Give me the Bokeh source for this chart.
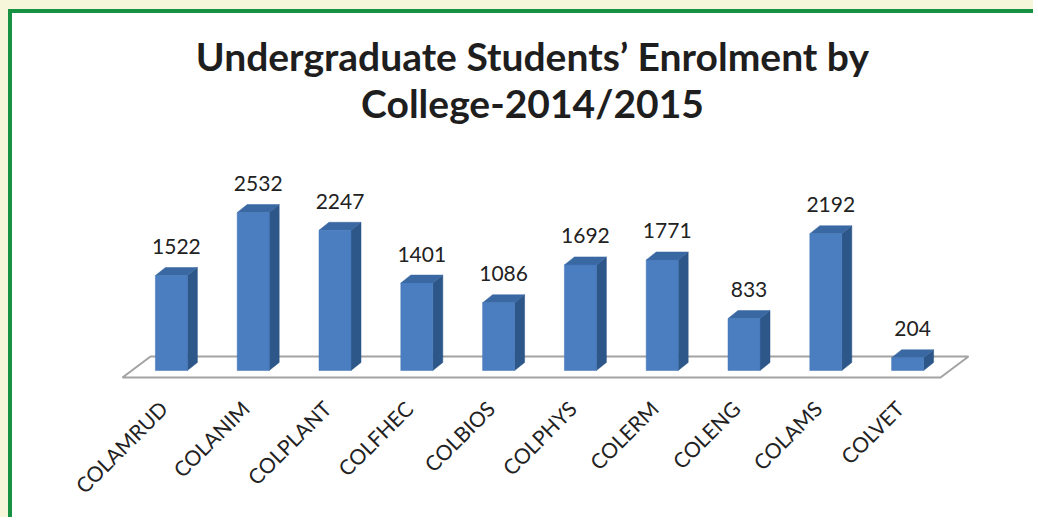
from bokeh.plotting import figure
from bokeh.layouts import column
from bokeh.models import Range1d, FixedTicker, Label
from bokeh.core.properties import value
from bokeh.embed import file_html
from bokeh.resources import INLINE

# ---- data ----
colleges = ["COLAMRUD", "COLANIM", "COLPLANT", "COLFHEC", "COLBIOS",
            "COLPHYS", "COLERM", "COLENG", "COLAMS", "COLVET"]
enrolment = [1522, 2532, 2247, 1401, 1086, 1692, 1771, 833, 2192, 204]
title_lines = ["Undergraduate Students\u2019 Enrolment by", "College-2014/2015"]

# ---- geometry (canvas pixels) ----
FIG_W, FIG_H = 1025, 508
FRAME_L, FRAME_R, FRAME_T, FRAME_B = 30, 1010, 0, 372
SLOT_PX = 81.8          # pixels per category slot
SLOT0_PX = 110          # pixel x of the left edge of the first slot
ZERO_PX = 357           # pixel y of value 0 (bar front bottom)
PX_PER_UNIT = 0.0624    # pixels per enrolment unit
TITLE_BASELINES = [42, 89]   # canvas y of title line anchors

def px_x(px):
    return px / SLOT_PX

def px_y(px):
    return px / PX_PER_UNIT

x_start = -0.5 + (FRAME_L - SLOT0_PX) / SLOT_PX
x_end = -0.5 + (FRAME_R - SLOT0_PX) / SLOT_PX
y_start = -px_y(FRAME_B - ZERO_PX)
y_end = px_y(ZERO_PX - FRAME_T)

fig = figure(width=FIG_W, height=FIG_H, output_backend="svg", toolbar_location=None,
             x_range=Range1d(x_start, x_end), y_range=Range1d(y_start, y_end),
             min_border_left=FRAME_L, min_border_right=FIG_W - FRAME_R,
             min_border_top=FRAME_T, min_border_bottom=FIG_H - FRAME_B,
             title=None, y_axis_location=None)
fig.styles = {"border-top": "4px solid #169242", "border-left": "4px solid #169242",
              "background-color": "#ffffff"}
fig.outline_line_color = None
fig.grid.visible = False
fig.background_fill_color = None
fig.border_fill_color = "#ffffff"
fig.border_fill_alpha = 1.0

FONT = "Lato"

# title (two centred lines at the top of the plot area)
x_mid = (x_start + x_end) / 2
for line, base in zip(title_lines, TITLE_BASELINES):
    fig.add_layout(Label(x=x_mid, y=y_end - px_y(base - FRAME_T), text=line,
                         text_align="center", text_baseline="alphabetic",
                         text_font=FONT, text_font_size="39px", text_font_style="bold",
                         text_color="#1e1e1e"))

n = len(colleges)
idx = list(range(n))

# floor
FLOOR_FRONT = -px_y(7)
FLOOR_DX = px_x(28)
FLOOR_DY = px_y(21)
fig.patch([-0.5, n - 0.5, n - 0.5 + FLOOR_DX, -0.5 + FLOOR_DX],
          [FLOOR_FRONT, FLOOR_FRONT, FLOOR_FRONT + FLOOR_DY, FLOOR_FRONT + FLOOR_DY],
          fill_color="white", line_color="#a3a3a3", line_width=2)

# bars
BAR_SHIFT = px_x(8)
BAR_W = px_x(32)
DX = px_x(10)
DY = px_y(8)
centers = [i + BAR_SHIFT for i in idx]
xl = [c - BAR_W / 2 for c in centers]
xr = [c + BAR_W / 2 for c in centers]

side_xs = [[r, r + DX, r + DX, r] for r in xr]
side_ys = [[0, DY, v + DY, v] for v in enrolment]
top_xs = [[l, r, r + DX, l + DX] for l, r in zip(xl, xr)]
top_ys = [[v, v, v + DY, v + DY] for v in enrolment]

fig.patches(side_xs, side_ys, fill_color="#2d5689", line_color="#2d5689", line_width=0.5)
fig.patches(top_xs, top_ys, fill_color="#3a68a3", line_color="#3a68a3", line_width=0.5)
fig.vbar(x=centers, top=enrolment, bottom=0, width=BAR_W,
         fill_color="#4a7ec0", line_color="#4477b8", line_width=0.5)

# value labels
fig.text(x=[c + DX / 2 for c in centers], y=[v + px_y(29) for v in enrolment],
         text=[str(v) for v in enrolment], text_align="center", text_baseline="alphabetic",
         text_font=value(FONT), text_font_size="21px", text_color="#222222")

# x axis
ax = fig.xaxis[0]
ax.ticker = FixedTicker(ticks=idx)
ax.major_label_overrides = {i: c for i, c in zip(idx, colleges)}
ax.major_label_orientation = 0.785398
ax.axis_line_color = None
ax.major_tick_line_color = None
ax.minor_tick_line_color = None
ax.major_label_standoff = 13
ax.major_label_text_font = FONT
ax.major_label_text_font_size = "21px"
ax.major_label_text_color = "#222222"

p = column(fig, styles={"background-color": "#f6f7da", "padding-top": "9px",
                        "padding-left": "8px"})

open("out.html", "w").write(file_html(p, INLINE))
